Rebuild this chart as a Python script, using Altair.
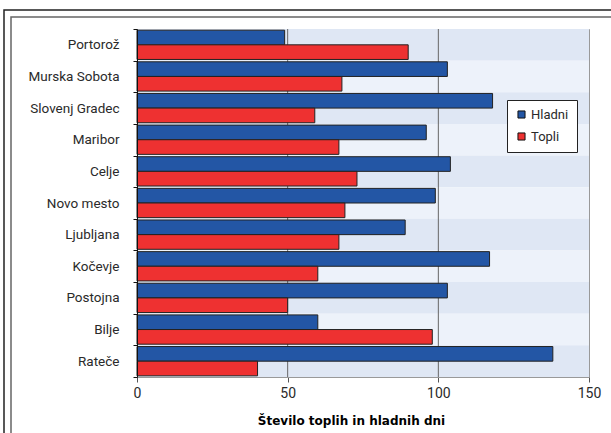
import altair as alt
import pandas as pd

# Number of cold ("Hladni") and warm ("Topli") days per station
cities = ["Portorož", "Murska Sobota", "Slovenj Gradec", "Maribor", "Celje",
          "Novo mesto", "Ljubljana", "Kočevje", "Postojna", "Bilje", "Rateče"]
hladni = [49, 103, 118, 96, 104, 99, 89, 117, 103, 60, 138]
topli = [90, 68, 59, 67, 73, 69, 67, 60, 50, 98, 40]
series = ["Hladni", "Topli"]
series_colors = ["#2356a5", "#ee3131"]
x_ticks = [0, 50, 100, 150]
grid_lines = [50, 100]
band_colors = ["#dfe7f4", "#edf2fa"]

FONT = "Roboto"
W, H = 452, 348

rows = []
for c, h, t in zip(cities, hladni, topli):
    rows.append({"city": c, "series": "Hladni", "value": h})
    rows.append({"city": c, "series": "Topli", "value": t})
bars_df = pd.DataFrame(rows)

bands_df = pd.DataFrame({
    "city": cities,
    "shade": [band_colors[i % 2] for i in range(len(cities))],
    "lo": [0] * len(cities),
    "hi": [150] * len(cities),
})
grid_df = pd.DataFrame({"v": grid_lines})

y_scale = alt.Scale(domain=cities, paddingInner=0, paddingOuter=0)
x_scale = alt.Scale(domain=[0, 150], nice=False)

bands = alt.Chart(bands_df).mark_rect().encode(
    y=alt.Y("city:N", scale=y_scale, sort=cities,
            axis=alt.Axis(title=None, tickBand="extent", labelFont=FONT,
                          labelFontSize=13.5, labelColor="#2a2a2a", labelPadding=14,
                          tickSize=4, tickColor="#111", domainColor="#111",
                          labelLimit=200)),
    x=alt.X("lo:Q", scale=x_scale,
            axis=alt.Axis(values=x_ticks, grid=False, title="Število toplih in hladnih dni",
                          labelFont=FONT, labelFontSize=14, labelColor="#2a2a2a",
                          labelPadding=4, labelFlush=False, tickSize=5, tickColor="#555",
                          domainColor="#999", titleFont="DejaVu Sans", titleFontSize=12,
                          titleFontWeight="bold", titleColor="#000",
                          titleX=214, titleY=47, titleBaseline="alphabetic",
                          titleAlign="center")),
    x2="hi:Q",
    fill=alt.Fill("shade:N", scale=None),
)

grid = alt.Chart(grid_df).mark_rule(color="#666", strokeWidth=1).encode(
    x=alt.X("v:Q", scale=x_scale)
)

bars = alt.Chart(bars_df).mark_bar(stroke="#222", strokeWidth=1).encode(
    y=alt.Y("city:N", scale=y_scale, sort=cities),
    yOffset=alt.YOffset("series:N", sort=series,
                        scale=alt.Scale(domain=series, paddingInner=0, paddingOuter=0.08)),
    x=alt.X("value:Q", scale=x_scale),
    color=alt.Color("series:N",
                    scale=alt.Scale(domain=series, range=series_colors),
                    legend=alt.Legend(title=None, orient="none", legendX=370, legendY=71,
                                      fillColor="white", strokeColor="#222",
                                      padding=8, rowPadding=8, symbolType="square",
                                      symbolSize=50, symbolStrokeColor="#111",
                                      symbolStrokeWidth=1, labelFont=FONT,
                                      labelFontSize=13, labelColor="#2a2a2a",
                                      labelOffset=3, offset=0)),
)

# Double frame around the whole figure
frame_df = pd.DataFrame({"k": [0]})
outer = alt.Chart(frame_df).mark_rect(fill=None, stroke="#222", strokeWidth=1.5).encode(
    x=alt.value(-133), x2=alt.value(700), y=alt.value(-19), y2=alt.value(500)
)
inner = alt.Chart(frame_df).mark_rect(fill=None, stroke="#666", strokeWidth=1.5).encode(
    x=alt.value(-126), x2=alt.value(700), y=alt.value(-12), y2=alt.value(500)
)

chart = alt.layer(bands, grid, bars, outer, inner).properties(
    width=W, height=H,
    autosize=alt.AutoSizeParams(type="none"),
    padding={"left": 137, "top": 29, "right": 22, "bottom": 56},
    background="white",
).configure_view(stroke="#999", strokeWidth=1)

chart.save("out.html", embed_options={"renderer": "svg", "actions": False})
